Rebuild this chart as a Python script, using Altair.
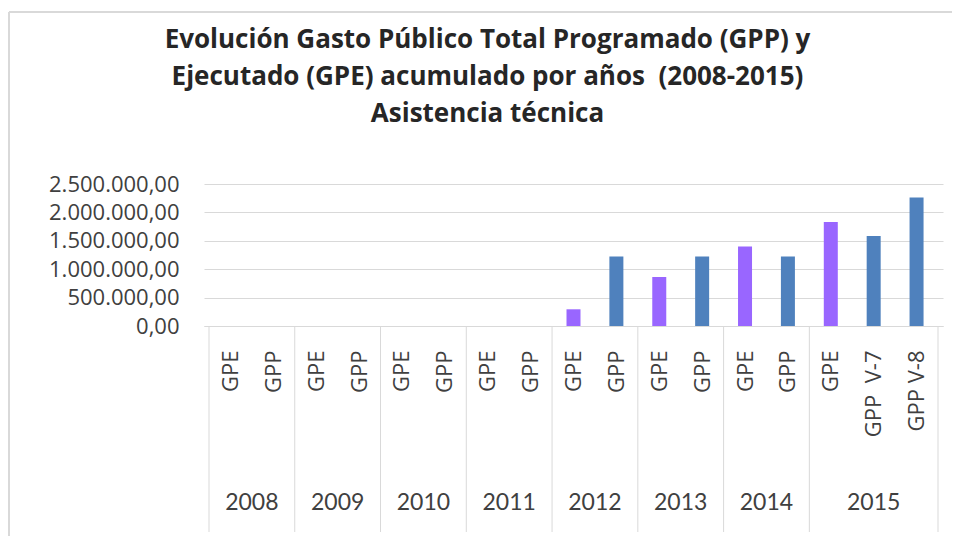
import json
import altair as alt
import pandas as pd

# ---- data ----
years = ["2008", "2008", "2009", "2009", "2010", "2010", "2011", "2011",
         "2012", "2012", "2013", "2013", "2014", "2014", "2015", "2015", "2015"]
categories = ["GPE", "GPP", "GPE", "GPP", "GPE", "GPP", "GPE", "GPP",
              "GPE", "GPP", "GPE", "GPP", "GPE", "GPP", "GPE", "GPP\u00a0\u00a0V-7", "GPP V-8"]
series = ["GPE", "GPP", "GPE", "GPP", "GPE", "GPP", "GPE", "GPP",
          "GPE", "GPP", "GPE", "GPP", "GPE", "GPP", "GPE", "GPP", "GPP"]
values = [0, 0, 0, 0, 0, 0, 0, 0,
          294000, 1222000, 863000, 1222000, 1398000, 1222000,
          1831000, 1585000, 2261000]
y_ticks = [0, 500000, 1000000, 1500000, 2000000, 2500000]
title_lines = ["Evolución Gasto Público Total Programado (GPP) y",
               "Ejecutado (GPE) acumulado por años\u00a0\u00a0(2008-2015)",
               "Asistencia técnica"]

W, H = 739, 142
TXT = "#404040"
GRID = "#d9d9d9"

df = pd.DataFrame({
    "pos": [i + 0.5 for i in range(len(values))],
    "year": years,
    "cat": categories,
    "serie": series,
    "value": values,
})

# year groups: boundaries and centres on the band index scale
uniq = list(dict.fromkeys(years))
starts = [years.index(y) for y in uniq]
ends = [len(years) - years[::-1].index(y) for y in uniq]
groups = pd.DataFrame({"year": uniq,
                       "center": [(s + e) / 2 for s, e in zip(starts, ends)]})
bounds = pd.DataFrame({"b": sorted(set(starts + ends))})

xscale = alt.Scale(domain=[0, len(values)], nice=False, zero=False)

bars = alt.Chart(df).mark_bar(size=14).encode(
    x=alt.X("pos:Q", scale=xscale,
            axis=alt.Axis(values=list(df["pos"]), title=None,
                          labelExpr=json.dumps(categories) + "[floor(datum.value)]",
                          labelAngle=270, labelAlign="right", labelBaseline="middle",
                          labelPadding=24, ticks=False, tickSize=0, grid=False,
                          domain=True, domainColor=GRID, domainWidth=1,
                          labelFont="Open Sans", labelFontSize=22, labelColor=TXT,
                          labelOverlap=False, labelFlush=False)),
    y=alt.Y("value:Q", scale=alt.Scale(domain=[0, 2500000], nice=False),
            axis=alt.Axis(values=y_ticks, format=",.2f", title=None,
                          ticks=False, tickSize=0, domain=False,
                          gridColor=GRID, gridWidth=1, labelPadding=25,
                          labelFont="Open Sans", labelFontSize=22, labelColor=TXT)),
    color=alt.Color("serie:N",
                    scale=alt.Scale(domain=["GPE", "GPP"], range=["#9966FF", "#4F81BD"]),
                    legend=None),
)

seps = alt.Chart(bounds).mark_rule(color=GRID, strokeWidth=1).encode(
    x=alt.X("b:Q", scale=xscale),
    y=alt.value(H),
    y2=alt.value(H + 206),
)

year_labels = alt.Chart(groups).mark_text(
    font="Lato", fontSize=23, color=TXT, baseline="middle", align="center"
).encode(
    x=alt.X("center:Q", scale=xscale),
    y=alt.value(H + 177),
    text="year:N",
)

# light grey chart frame (decoration: top and left edges; it runs off the page)
frame_src = pd.DataFrame({"frame": [1]})
frame_top = alt.Chart(frame_src).mark_rule(color=GRID, strokeWidth=2).encode(
    x=alt.value(-195), x2=alt.value(W + 30), y=alt.value(-172),
)
frame_left = alt.Chart(frame_src).mark_rule(color=GRID, strokeWidth=2).encode(
    x=alt.value(-195), y=alt.value(-172), y2=alt.value(H + 240),
)

chart = alt.layer(frame_top, frame_left, seps, bars, year_labels).properties(
    width=W, height=H,
    autosize=alt.AutoSizeParams(type="none"),
    padding={"left": 196, "top": 176, "right": 9, "bottom": 210},
    title=alt.TitleParams(title_lines, anchor="middle", dx=-86, offset=0, dy=116,
                          font="Open Sans", fontSize=26, fontWeight="bold",
                          color="#262626", lineHeight=37),
).configure(
    locale={"number": {"decimal": ",", "thousands": ".", "grouping": [3],
                       "currency": ["", " €"]}}
).configure_view(stroke=None)

chart.save("out.html", embed_options={"renderer": "svg", "actions": False})
